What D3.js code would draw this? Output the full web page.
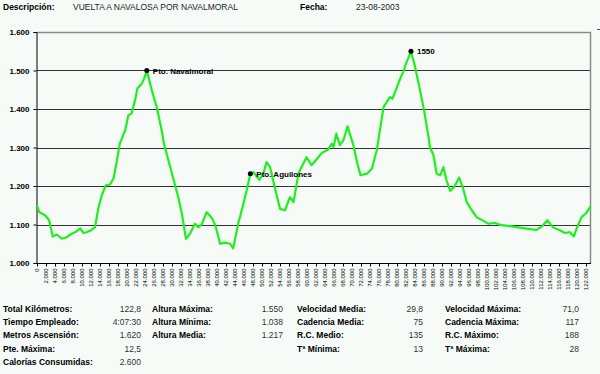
<!DOCTYPE html>
<html>
<head>
<meta charset="utf-8">
<script src="https://cdn.jsdelivr.net/npm/d3@7"></script>
<style>
body { margin:0; background:#f6fbf8; }
svg { display:block; font-family:"Liberation Sans", Arial, sans-serif; }
</style>
</head>
<body>
<script>
var W = 600, H = 374;
var PLOT = {left: 37, right: 591, top: 32, bottom: 263};

// perfil: km recorridos
var km = [0, 0.5, 1.8, 2.7, 3.5, 4.4, 5.5, 6.6, 7.7, 8.8, 9.6, 10.3, 11, 12.1, 12.9, 13.6, 14.4, 15.3, 16.2, 17, 17.7,
  18.4, 19.6, 20.3, 21, 21.8, 22.3, 23.3, 23.8, 24.4, 25.5, 26.6, 27.7, 28.2, 29.2, 30.3, 31.4, 32.2, 33.1, 34, 35.1,
  35.85, 36.6, 37.7, 38.8, 39.6, 40.7, 41.8, 42.9, 43.6, 44.7, 45.5, 46.6, 47.4, 48.1, 49.4, 50.3, 51, 51.8, 52.9, 54,
  55.1, 56.2, 57, 58.1, 58.6, 59.9, 61, 62.1, 63.3, 64.7, 65.5, 65.9, 66.5, 67.3, 68.1, 69, 70.3, 71.2, 71.9, 73.3,
  74.4, 75.5, 76.2, 77, 78.4, 79, 79.8, 80.7, 81.4, 82, 82.9, 83.1, 84, 85.1, 86, 87, 87.3, 88.1, 88.8, 89.6, 90.3,
  91, 91.8, 92.7, 93.8, 94.7, 95.5, 96.6, 97.7, 98.8, 100.3, 101.8, 102.9, 105.1, 107.3, 109.6, 111, 112.2, 113.4,
  114.7, 116.2, 117.3, 118.4, 119.3, 119.9, 121, 122.1, 123];
// altura en metros
var altura = [1150, 1132, 1124, 1111, 1069, 1074, 1063, 1067, 1076, 1082, 1090, 1078, 1080, 1086, 1093, 1141, 1176, 1202, 1204, 1219, 1262,
  1310, 1345, 1384, 1388, 1423, 1453, 1466, 1479, 1500, 1449, 1405, 1345, 1310, 1267, 1219, 1171, 1128, 1063, 1076, 1102,
  1093, 1100, 1132, 1118, 1099, 1050, 1053, 1050, 1038, 1102, 1137, 1189, 1232, 1236, 1216, 1232, 1262, 1249, 1193, 1141,
  1137, 1171, 1158, 1232, 1245, 1275, 1254, 1269, 1286, 1295, 1310, 1301, 1336, 1306, 1319, 1355, 1306, 1258, 1228, 1232,
  1245, 1293, 1345, 1405, 1431, 1427, 1451, 1479, 1497, 1518, 1544, 1550, 1510, 1449, 1397, 1327, 1301, 1280, 1232, 1228, 1249,
  1215, 1187, 1197, 1222, 1193, 1158, 1137, 1119, 1112, 1102, 1104, 1099, 1096, 1092, 1088, 1086, 1095, 1111,
  1092, 1085, 1078, 1080, 1069, 1089, 1119, 1130, 1147];

var puntosKm = [24.4, 47.4, 83.1];
var puntosAlt = [1500, 1232, 1550];
var puntosTxt = ["Pto. Navalmoral", "Pto. Aguilones", "1550"];

var yTicks = [1000, 1100, 1200, 1300, 1400, 1500, 1600];
var xTicks = d3.range(0, 123, 2);

var col1Lab = ["Total Kilómetros:", "Tiempo Empleado:", "Metros Ascensión:", "Pte. Máxima:", "Calorías Consumidas:"];
var col1Val = ["122,8", "4:07:30", "1.620", "12,5", "2.600"];
var col2Lab = ["Altura Máxima:", "Altura Mínima:", "Altura Media:"];
var col2Val = ["1.550", "1.038", "1.217"];
var col3Lab = ["Velocidad Media:", "Cadencia Media:", "R.C. Medio:", "Tª Mínima:"];
var col3Val = ["29,8", "75", "135", "13"];
var col4Lab = ["Velocidad Máxima:", "Cadencia Máxima:", "R.C.  Máximo:", "Tª Máxima:"];
var col4Val = ["71,0", "117", "188", "28"];

var fmt = function (v) { return d3.format(".3f")(v / 1000); };
var fmtKm = function (v) { return v == 0 ? "0" : v + ".000"; };

var svg = d3.select("body").append("svg").attr("width", W).attr("height", H);
svg.append("rect").attr("width", W).attr("height", H).attr("fill", "#f6fbf8");

var x = d3.scaleLinear().domain([0, 123.1]).range([PLOT.left, PLOT.right]);
var y = d3.scaleLinear().domain([1000, 1600]).range([PLOT.bottom, PLOT.top]);

// cabecera
svg.append("text").attr("x", 3).attr("y", 10).attr("font-size", 8.5).attr("font-weight", "bold").text("Descripción:");
svg.append("text").attr("x", 73).attr("y", 10).attr("font-size", 8.5).attr("fill", "#222").text("VUELTA A NAVALOSA POR NAVALMORAL");
svg.append("text").attr("x", 300).attr("y", 10).attr("font-size", 8.5).attr("font-weight", "bold").text("Fecha:");
svg.append("text").attr("x", 356).attr("y", 10).attr("font-size", 8.5).attr("fill", "#222").text("23-08-2003");

// rejilla
svg.append("g").selectAll("line").data(yTicks.slice(1, 6)).enter().append("line")
  .attr("x1", PLOT.left).attr("x2", PLOT.right)
  .attr("y1", function (d) { return Math.round(y(d)) + 0.5; })
  .attr("y2", function (d) { return Math.round(y(d)) + 0.5; })
  .attr("stroke", "#333").attr("stroke-width", 1);

// borde
svg.append("path")
  .attr("d", "M" + PLOT.left + "," + (PLOT.top + 0.5) + "H" + (PLOT.right - 0.5) + "V" + PLOT.bottom)
  .attr("fill", "none").attr("stroke", "#8a8a8a").attr("stroke-width", 1.5);
svg.append("line").attr("x1", 597).attr("x2", 600).attr("y1", 29.5).attr("y2", 29.5).attr("stroke", "#555");

// eje y
var yAxis = svg.append("g").attr("transform", "translate(" + (PLOT.left - 0.5) + ",0)")
  .call(d3.axisLeft(y).tickValues(yTicks).tickFormat(fmt).tickSize(3).tickPadding(4));
yAxis.select(".domain").attr("stroke", "#000");
yAxis.selectAll(".tick line").attr("stroke", "#000");
yAxis.selectAll("text").attr("font-size", 8).attr("font-weight", "bold").attr("font-family", "Liberation Sans, Arial").attr("fill", "#000");

// eje x
var xAxis = svg.append("g").attr("transform", "translate(0," + (PLOT.bottom + 0.5) + ")")
  .call(d3.axisBottom(x).tickValues(xTicks).tickFormat(fmtKm).tickSize(3).tickPadding(2));
xAxis.select(".domain").attr("stroke", "#000").attr("d", "M" + PLOT.left + ",0H" + PLOT.right);
xAxis.selectAll(".tick line").attr("stroke", "#000");
xAxis.selectAll("text")
  .attr("font-size", 6).attr("font-family", "Liberation Sans, Arial").attr("fill", "#000")
  .attr("text-anchor", "end").attr("dy", "0.32em")
  .attr("transform", "translate(0,5) rotate(-90)").attr("x", 0).attr("y", 0);

// perfil
var pts = km.map(function (k, i) { return [k, altura[i]]; });
var line = d3.line().x(function (d) { return x(d[0]); }).y(function (d) { return y(d[1]); });
svg.append("path").datum(pts).attr("d", line)
  .attr("fill", "none").attr("stroke", "#1ef01e").attr("stroke-width", 2.2).attr("stroke-linejoin", "round");

// puntos marcados
var pg = svg.append("g");
pg.selectAll("circle").data(puntosKm).enter().append("circle")
  .attr("cx", function (d) { return x(d); })
  .attr("cy", function (d, i) { return y(puntosAlt[i]); })
  .attr("r", 2.5).attr("fill", "#000");
pg.selectAll("text").data(puntosKm).enter().append("text")
  .attr("x", function (d) { return x(d) + 6; })
  .attr("y", function (d, i) { return y(puntosAlt[i]) + 3; })
  .attr("font-size", 8).attr("font-weight", "bold")
  .text(function (d, i) { return puntosTxt[i]; });

// tabla de resumen
function columna(labs, vals, xl, xv) {
  var g = svg.append("g");
  g.selectAll("text.l").data(labs).enter().append("text").attr("class", "l")
    .attr("x", xl).attr("y", function (d, i) { return 312 + i * 13.2; })
    .attr("font-size", 8.5).attr("font-weight", "bold").text(function (d) { return d; });
  g.selectAll("text.v").data(vals).enter().append("text").attr("class", "v")
    .attr("x", xv).attr("y", function (d, i) { return 312 + i * 13.2; })
    .attr("font-size", 8.5).attr("text-anchor", "end").attr("fill", "#333").text(function (d) { return d; });
}
columna(col1Lab, col1Val, 3, 141);
columna(col2Lab, col2Val, 152, 283);
columna(col3Lab, col3Val, 297, 423);
columna(col4Lab, col4Val, 445, 579);
</script>
</body>
</html>
